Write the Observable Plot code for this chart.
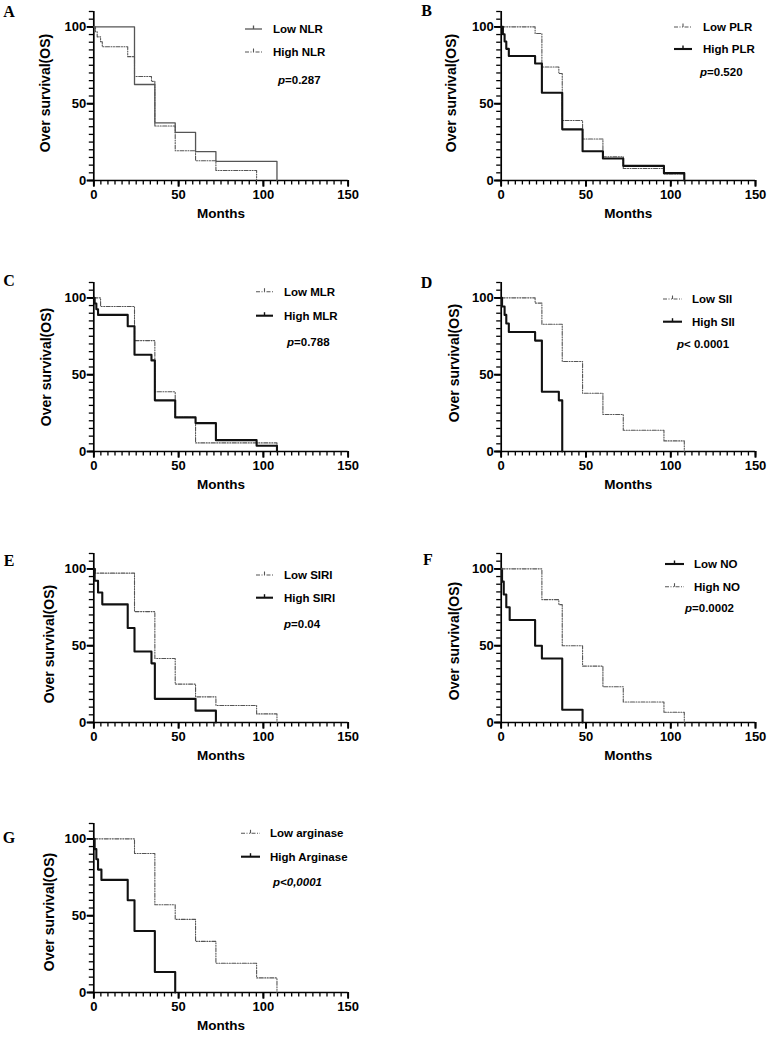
<!DOCTYPE html>
<html>
<head>
<meta charset="utf-8">
<script src="https://cdn.jsdelivr.net/npm/d3@7"></script>
<script src="https://cdn.jsdelivr.net/npm/@observablehq/plot@0.6"></script>
<style>
  body { margin: 0; background: #fff; }
  #page { position: relative; width: 768px; height: 1037px; overflow: hidden; background: #fff;
          font-family: "Liberation Sans", Arial, Helvetica, sans-serif; }
  .panel { position: absolute; }
  .panel svg text { font-weight: 700; }
  #overlay { position: absolute; left: 0; top: 0; pointer-events: none; }
</style>
</head>
<body>
<div id="page"></div>
<script>
// Kaplan–Meier overall survival (%) after each event, by month of follow-up

// A: NLR
const nlrLowMonths  = [0, 24, 36, 48, 60, 72, 108];
const nlrLowSurv    = [100, 62.5, 37.5, 31.3, 18.8, 12.5, 0];
const nlrHighMonths = [0, 1, 2, 4, 5, 20, 24, 34, 36, 48, 60, 72, 96];
const nlrHighSurv   = [100, 96.8, 93.5, 90.3, 87.1, 80.6, 67.7, 64.5, 35.5, 19.4, 12.9, 6.5, 0];

// B: PLR
const plrLowMonths  = [0, 20, 24, 34, 36, 48, 60, 72, 96, 108];
const plrLowSurv    = [100, 95.7, 73.9, 69.6, 39.1, 27.0, 15.5, 7.8, 4.3, 0];
const plrHighMonths = [0, 1, 2, 3, 4.5, 20, 24, 36, 48, 60, 72, 96, 108];
const plrHighSurv   = [100, 95.2, 90.5, 85.7, 81.0, 76.2, 57.1, 33.3, 19.0, 14.3, 9.5, 4.8, 0];

// C: MLR
const mlrLowMonths  = [0, 4, 24, 36, 48, 60, 108];
const mlrLowSurv    = [100, 94.4, 72.2, 38.9, 22.2, 5.6, 0];
const mlrHighMonths = [0, 0.5, 1.5, 2.5, 20, 24, 34, 36, 48, 60, 72, 96, 108];
const mlrHighSurv   = [100, 96.3, 92.6, 88.9, 81.5, 63.0, 59.3, 33.3, 22.2, 18.5, 7.4, 3.7, 0];

// D: SII
const siiLowMonths  = [0, 20, 24, 36, 48, 60, 72, 96, 108];
const siiLowSurv    = [100, 96.6, 82.8, 58.6, 37.9, 24.1, 13.8, 6.9, 0];
const siiHighMonths = [0, 0.5, 2, 3, 4.5, 20, 24, 34, 36];
const siiHighSurv   = [100, 94.4, 88.9, 83.3, 77.8, 72.2, 38.9, 33.3, 0];

// E: SIRI
const siriLowMonths  = [0, 1, 24, 36, 48, 60, 72, 96, 108];
const siriLowSurv    = [100, 97.2, 72.2, 41.7, 25.0, 16.7, 11.1, 5.6, 0];
const siriHighMonths = [0, 0.5, 2.5, 5, 20, 24, 34, 36, 60, 72];
const siriHighSurv   = [100, 92.3, 84.6, 76.9, 61.5, 46.2, 38.5, 15.4, 7.7, 0];

// F: NO
const noLowMonths  = [0, 0.5, 1.5, 3, 5, 20, 24, 36, 48];
const noLowSurv    = [100, 91.7, 83.3, 75.0, 66.7, 50.0, 41.7, 8.3, 0];
const noHighMonths = [0, 24, 34, 36, 48, 60, 72, 96, 108];
const noHighSurv   = [100, 80.0, 76.7, 50.0, 36.7, 23.3, 13.3, 6.7, 0];

// G: arginase
const argLowMonths  = [0, 24, 36, 48, 60, 72, 96, 108];
const argLowSurv    = [100, 90.5, 57.1, 47.6, 33.3, 19.0, 9.5, 0];
const argHighMonths = [0, 0.5, 1.5, 2.5, 4.5, 20, 24, 36, 48];
const argHighSurv   = [100, 93.3, 86.7, 80.0, 73.3, 60.0, 40.0, 13.3, 0];

// Text
const panelLetters = ["A", "B", "C", "D", "E", "F", "G"];
const lowLabels  = ["Low NLR", "Low PLR", "Low MLR", "Low SII", "Low SIRI", "Low NO", "Low arginase"];
const highLabels = ["High NLR", "High PLR", "High MLR", "High SII", "High SIRI", "High NO", "High Arginase"];
const pValues = ["=0.287", "=0.520", "=0.788", "< 0.0001", "=0.04", "=0.0002", "<0,0001"];
const xTitle = "Months";
const yTitle = "Over survival(OS)";

// Axis ticks
const xMajorTicks = [0, 50, 100, 150];
const yMajorTicks = [0, 50, 100];
const xMinorTicks = d3.range(0, 37).map(i => i * 50 / 12);
const yMinorTicks = d3.range(0, 111, 5);

// Curve styles
const styles = {
  thin:  {stroke: "#555", strokeWidth: 1.3},
  dash:  {stroke: "#555", strokeWidth: 1.1, strokeDasharray: "4 1.5 1 1.5 1 1.5"},
  thick: {stroke: "#111", strokeWidth: 2.1}
};

const series = [
  {low: [nlrLowMonths, nlrLowSurv],   high: [nlrHighMonths, nlrHighSurv],   lowStyle: "thin",  highStyle: "dash"},
  {low: [plrLowMonths, plrLowSurv],   high: [plrHighMonths, plrHighSurv],   lowStyle: "dash",  highStyle: "thick"},
  {low: [mlrLowMonths, mlrLowSurv],   high: [mlrHighMonths, mlrHighSurv],   lowStyle: "dash",  highStyle: "thick"},
  {low: [siiLowMonths, siiLowSurv],   high: [siiHighMonths, siiHighSurv],   lowStyle: "dash",  highStyle: "thick"},
  {low: [siriLowMonths, siriLowSurv], high: [siriHighMonths, siriHighSurv], lowStyle: "dash",  highStyle: "thick"},
  {low: [noLowMonths, noLowSurv],     high: [noHighMonths, noHighSurv],     lowStyle: "thick", highStyle: "dash"},
  {low: [argLowMonths, argLowSurv],   high: [argHighMonths, argHighSurv],   lowStyle: "dash",  highStyle: "thick"}
];

// Panel placement on the page
const layout = [
  {left: 0,   top: 0,     ml: 93.3,  mr: 36.3, ylabDx: -48, ylabDy: -3},
  {left: 384, top: 0,     ml: 116.7, mr: 13,   ylabDx: -50, ylabDy: -3},
  {left: 0,   top: 271,   ml: 93.3,  mr: 36.3, ylabDx: -47, ylabDy: 0},
  {left: 384, top: 270.7, ml: 116.7, mr: 13,   ylabDx: -47, ylabDy: -4},
  {left: 0,   top: 541.7, ml: 93.3,  mr: 36.3, ylabDx: -44, ylabDy: 6},
  {left: 384, top: 541.7, ml: 116.7, mr: 13,   ylabDx: -47, ylabDy: 3},
  {left: 0,   top: 811.7, ml: 93.3,  mr: 36.3, ylabDx: -44, ylabDy: 4}
];

// Legend and letter placement (page pixels)
const legendPos = [
  {x1: 245, x2: 262, y: [29, 52],       tx: 273, px: 278, py: 80},
  {x1: 674, x2: 692, y: [27, 49],       tx: 703, px: 700, py: 72},
  {x1: 256, x2: 273, y: [291.7, 315.7], tx: 284, px: 287, py: 342},
  {x1: 663, x2: 682, y: [299, 321.7],   tx: 692, px: 677, py: 344},
  {x1: 256, x2: 273, y: [575, 597.7],   tx: 284, px: 284, py: 624},
  {x1: 665, x2: 684, y: [564, 586.7],   tx: 694, px: 685, py: 608},
  {x1: 241, x2: 260, y: [833.3, 856.7], tx: 270, px: 273, py: 881.7}
];
const letterPos = [[9, 11], [426.5, 10.5], [9, 280], [426.5, 282.5], [9, 560], [428, 559], [9, 837.5]];

const page = document.getElementById("page");
const sansFont = "'Liberation Sans', Arial, Helvetica, sans-serif";

// Frame geometry shared by all panels
const plotW = 384, plotH = 230, mTop = 11, mBottom = 50;
const frameH = plotH - mTop - mBottom;      // pixels spanned by 0–110 %
const minorLen = 4.5, majorLen = 6.5;        // tick lengths in pixels

function toRows([months, surv]) {
  return months.map((m, i) => ({month: m, surv: surv[i]}));
}

series.forEach((s, i) => {
  const L = layout[i];
  const frameW = plotW - L.ml - L.mr;
  // tick lengths expressed in scale units so the rules hang outside the frame
  const yPer = 110 / frameH, xPer = 150 / frameW;
  const chart = Plot.plot({
    width: plotW,
    height: plotH,
    marginTop: mTop,
    marginBottom: mBottom,
    marginLeft: L.ml,
    marginRight: L.mr,
    style: {fontFamily: sansFont, color: "#000", background: "transparent", overflow: "visible"},
    x: {domain: [0, 150], label: null},
    y: {domain: [0, 110], label: null},
    marks: [
      // tick marks
      Plot.ruleX(xMinorTicks, {x: d => d, y1: 0, y2: -minorLen * yPer, stroke: "#000", strokeWidth: 1.3}),
      Plot.ruleX(xMajorTicks, {x: d => d, y1: 0, y2: -majorLen * yPer, stroke: "#000", strokeWidth: 1.7}),
      Plot.ruleY(yMinorTicks, {y: d => d, x1: 0, x2: -minorLen * xPer, stroke: "#000", strokeWidth: 1.3}),
      Plot.ruleY(yMajorTicks, {y: d => d, x1: 0, x2: -majorLen * xPer, stroke: "#000", strokeWidth: 1.7}),
      // tick labels
      Plot.axisX(xMajorTicks, {tickSize: majorLen, strokeWidth: 1.7, tickPadding: 2.5, fontSize: 13, fontWeight: "bold", label: null}),
      Plot.axisY(yMajorTicks, {tickSize: majorLen, strokeWidth: 1.7, tickPadding: 1, fontSize: 13, fontWeight: "bold", label: null}),
      // axis lines
      Plot.ruleY([0], {stroke: "#000", strokeWidth: 1.7}),
      Plot.ruleX([0], {stroke: "#000", strokeWidth: 1.7}),
      // survival curves
      Plot.line(toRows(s.low), {x: "month", y: "surv", curve: "step-after", ...styles[s.lowStyle]}),
      Plot.line(toRows(s.high), {x: "month", y: "surv", curve: "step-after", ...styles[s.highStyle]}),
      // axis titles
      Plot.text([xTitle], {text: d => d, frameAnchor: "bottom", dy: 37, fontSize: 13.5, fontWeight: "bold"}),
      Plot.text([yTitle], {text: d => d, frameAnchor: "left", textAnchor: "middle", dx: L.ylabDx, dy: L.ylabDy,
                           rotate: -90, fontSize: 14, fontWeight: "bold"})
    ]
  });
  const wrap = document.createElement("div");
  wrap.className = "panel";
  wrap.style.left = L.left + "px";
  wrap.style.top = L.top + "px";
  wrap.appendChild(chart);
  page.appendChild(wrap);
});

// Legends, p-values and panel letters
const overlay = d3.select(page).append("svg")
  .attr("id", "overlay")
  .attr("width", 768).attr("height", 1037);

series.forEach((s, i) => {
  const g = legendPos[i];
  const entries = [[lowLabels[i], s.lowStyle], [highLabels[i], s.highStyle]];
  entries.forEach(([label, styleKey], k) => {
    const st = styles[styleKey];
    const y = g.y[k];
    overlay.append("line")
      .attr("x1", g.x1).attr("x2", g.x2).attr("y1", y).attr("y2", y)
      .attr("stroke", st.stroke).attr("stroke-width", st.strokeWidth)
      .attr("stroke-dasharray", st.strokeDasharray || null);
    overlay.append("line")
      .attr("x1", (g.x1 + g.x2) / 2).attr("x2", (g.x1 + g.x2) / 2)
      .attr("y1", y - 3.5).attr("y2", y)
      .attr("stroke", st.stroke).attr("stroke-width", Math.min(st.strokeWidth, 1.4));
    overlay.append("text")
      .attr("x", g.tx).attr("y", y)
      .attr("dominant-baseline", "central")
      .attr("font-family", sansFont).attr("font-weight", 700).attr("font-size", 11.5)
      .attr("fill", "#000")
      .text(label);
  });
  const pt = overlay.append("text")
    .attr("x", g.px).attr("y", g.py)
    .attr("dominant-baseline", "central")
    .attr("font-family", sansFont).attr("font-weight", 700).attr("font-size", 11.5)
    .attr("fill", "#000");
  pt.append("tspan").attr("font-style", "italic").text("p");
  pt.append("tspan").attr("font-style", i === 6 ? "italic" : "normal").text(pValues[i]);

  overlay.append("text")
    .attr("x", letterPos[i][0]).attr("y", letterPos[i][1])
    .attr("text-anchor", "middle").attr("dominant-baseline", "central")
    .attr("font-family", "'Liberation Serif', 'Times New Roman', serif")
    .attr("font-weight", 700).attr("font-size", 16).attr("fill", "#000")
    .text(panelLetters[i]);
});
</script>
</body>
</html>
